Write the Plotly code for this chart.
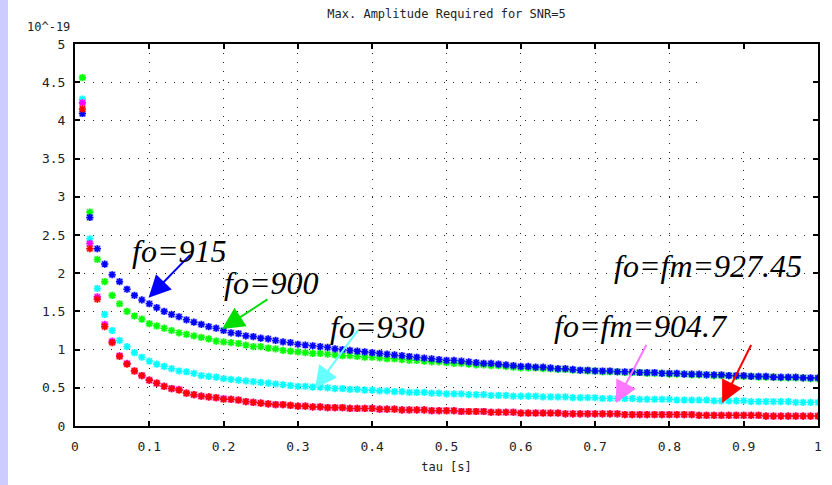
import plotly.graph_objects as go

# sampling times tau [s]
tau = [round(0.01 * k, 2) for k in range(1, 101)]

# required amplitude (units of 1e-19) for each carrier frequency
amp_915 = [4.09, 2.73, 2.32, 2.12, 1.98, 1.89, 1.79, 1.71, 1.65, 1.60,
           1.55, 1.50, 1.46, 1.43, 1.39, 1.36, 1.33, 1.30, 1.28, 1.25,
           1.22, 1.21, 1.18, 1.17, 1.15, 1.14, 1.12, 1.10, 1.09, 1.07,
           1.06, 1.05, 1.04, 1.03, 1.01, 1.00, 0.99, 0.98, 0.97, 0.96,
           0.95, 0.94, 0.93, 0.92, 0.91, 0.90, 0.89, 0.88, 0.87, 0.86,
           0.86, 0.85, 0.84, 0.83, 0.82, 0.82, 0.81, 0.80, 0.79, 0.78,
           0.78, 0.77, 0.77, 0.76, 0.75, 0.75, 0.74, 0.73, 0.73, 0.72,
           0.72, 0.72, 0.71, 0.71, 0.71, 0.70, 0.70, 0.70, 0.69, 0.69,
           0.69, 0.68, 0.68, 0.68, 0.67, 0.67, 0.67, 0.66, 0.66, 0.66,
           0.65, 0.65, 0.65, 0.64, 0.64, 0.64, 0.64, 0.63, 0.63, 0.63]

amp_900 = [4.56, 2.80, 2.18, 1.89, 1.71, 1.60, 1.50, 1.44, 1.40, 1.34,
           1.31, 1.28, 1.25, 1.22, 1.20, 1.18, 1.16, 1.14, 1.11, 1.10,
           1.09, 1.08, 1.06, 1.04, 1.04, 1.02, 1.01, 0.99, 0.98, 0.97,
           0.96, 0.95, 0.95, 0.94, 0.93, 0.92, 0.92, 0.91, 0.90, 0.90,
           0.89, 0.88, 0.88, 0.87, 0.86, 0.86, 0.85, 0.84, 0.84, 0.83,
           0.82, 0.82, 0.81, 0.80, 0.80, 0.79, 0.79, 0.78, 0.77, 0.76,
           0.76, 0.76, 0.75, 0.75, 0.74, 0.74, 0.73, 0.73, 0.72, 0.72,
           0.71, 0.71, 0.71, 0.70, 0.70, 0.70, 0.69, 0.69, 0.69, 0.68,
           0.68, 0.68, 0.67, 0.67, 0.67, 0.66, 0.66, 0.66, 0.65, 0.65,
           0.65, 0.64, 0.64, 0.64, 0.63, 0.63, 0.63, 0.63, 0.62, 0.62]

amp_930 = [4.28, 2.45, 1.80, 1.46, 1.25, 1.12, 1.04, 0.96, 0.90, 0.85,
           0.81, 0.78, 0.75, 0.72, 0.71, 0.69, 0.66, 0.65, 0.64, 0.62,
           0.61, 0.60, 0.59, 0.58, 0.57, 0.56, 0.55, 0.54, 0.53, 0.52,
           0.52, 0.51, 0.51, 0.50, 0.49, 0.49, 0.48, 0.48, 0.47, 0.47,
           0.46, 0.46, 0.45, 0.45, 0.44, 0.44, 0.44, 0.43, 0.43, 0.42,
           0.42, 0.42, 0.41, 0.41, 0.41, 0.40, 0.40, 0.40, 0.39, 0.39,
           0.39, 0.39, 0.38, 0.38, 0.38, 0.38, 0.37, 0.37, 0.37, 0.37,
           0.36, 0.36, 0.36, 0.36, 0.36, 0.35, 0.35, 0.35, 0.35, 0.35,
           0.34, 0.34, 0.34, 0.34, 0.34, 0.33, 0.33, 0.33, 0.33, 0.33,
           0.32, 0.32, 0.32, 0.32, 0.32, 0.32, 0.31, 0.31, 0.31, 0.31]

amp_904_7 = [4.23, 2.39, 1.69, 1.33, 1.11, 0.92, 0.82, 0.72, 0.66, 0.60,
             0.56, 0.52, 0.49, 0.48, 0.43, 0.41, 0.39, 0.38, 0.37, 0.36,
             0.35, 0.34, 0.32, 0.31, 0.30, 0.29, 0.28, 0.28, 0.27, 0.26,
             0.26, 0.25, 0.25, 0.24, 0.24, 0.24, 0.23, 0.23, 0.23, 0.23,
             0.22, 0.22, 0.22, 0.21, 0.21, 0.21, 0.21, 0.20, 0.20, 0.20,
             0.20, 0.19, 0.19, 0.19, 0.19, 0.18, 0.18, 0.18, 0.18, 0.17,
             0.17, 0.17, 0.17, 0.17, 0.17, 0.16, 0.16, 0.16, 0.16, 0.16,
             0.16, 0.16, 0.16, 0.15, 0.15, 0.15, 0.15, 0.15, 0.15, 0.15,
             0.15, 0.15, 0.15, 0.14, 0.14, 0.14, 0.14, 0.14, 0.14, 0.14,
             0.14, 0.14, 0.13, 0.13, 0.13, 0.13, 0.13, 0.13, 0.13, 0.13]

amp_927_45 = [4.15, 2.32, 1.66, 1.30, 1.09, 0.91, 0.81, 0.72, 0.66, 0.60,
              0.56, 0.52, 0.49, 0.47, 0.43, 0.41, 0.39, 0.38, 0.37, 0.35,
              0.35, 0.34, 0.32, 0.31, 0.30, 0.29, 0.28, 0.28, 0.27, 0.26,
              0.26, 0.25, 0.25, 0.24, 0.24, 0.24, 0.23, 0.23, 0.23, 0.23,
              0.22, 0.22, 0.22, 0.21, 0.21, 0.21, 0.21, 0.20, 0.20, 0.20,
              0.20, 0.19, 0.19, 0.19, 0.19, 0.18, 0.18, 0.18, 0.18, 0.17,
              0.17, 0.17, 0.17, 0.17, 0.17, 0.16, 0.16, 0.16, 0.16, 0.16,
              0.16, 0.16, 0.16, 0.15, 0.15, 0.15, 0.15, 0.15, 0.15, 0.15,
              0.15, 0.15, 0.15, 0.14, 0.14, 0.14, 0.14, 0.14, 0.14, 0.14,
              0.14, 0.14, 0.13, 0.13, 0.13, 0.13, 0.13, 0.13, 0.13, 0.13]

series = [
    ("fo=900", amp_900, "#00ff00"),
    ("fo=915", amp_915, "#0000ff"),
    ("fo=930", amp_930, "#00ffff"),
    ("fo=fm=904.7", amp_904_7, "#ff00ff"),
    ("fo=fm=927.45", amp_927_45, "#ff0000"),
]

# callout labels: text, text position, arrow head, arrow tail, arrow colour
callouts = [
    ("fo=915", (0.140, 2.29), (0.099, 1.68), (0.157, 2.26), "#0000ff"),
    ("fo=900", (0.264, 1.87), (0.198, 1.27), (0.261, 1.67), "#00dd00"),
    ("fo=930", (0.406, 1.29), (0.323, 0.49), (0.383, 1.28), "#66ffff"),
    ("fo=fm=904.7", (0.762, 1.31), (0.728, 0.30), (0.770, 1.08), "#ff77ff"),
    ("fo=fm=927.45", (0.852, 2.09), (0.871, 0.30), (0.911, 1.08), "#ff0000"),
]

fig = go.Figure()

for name, vals, col in series:
    # soft halo behind each point
    fig.add_trace(go.Scatter(
        x=tau, y=vals, mode="markers", showlegend=False, hoverinfo="skip",
        marker=dict(symbol="square", size=7, color=col, opacity=0.25,
                    line=dict(width=0)),
    ))
    fig.add_trace(go.Scatter(
        x=tau, y=vals, mode="markers", name=name, showlegend=False,
        marker=dict(symbol="asterisk-open", size=6, color=col,
                    line=dict(color=col, width=1.6)),
    ))

annotations = []
for text, (tx, ty), (hx, hy), (sx, sy), col in callouts:
    annotations.append(dict(
        x=hx, y=hy, ax=sx, ay=sy, xref="x", yref="y", axref="x", ayref="y",
        text="", showarrow=True, arrowhead=2, arrowsize=2.2, arrowwidth=2,
        arrowcolor=col,
    ))
    annotations.append(dict(
        x=tx, y=ty, xref="x", yref="y", text="<i>%s</i>" % text,
        showarrow=False, xanchor="center", yanchor="middle",
        font=dict(family="Liberation Serif", size=32, color="#000000"),
    ))

annotations.append(dict(
    x=-27 / 743, y=1.0, xref="paper", yref="paper", yshift=17,
    text="10^-19", showarrow=False, xanchor="center", yanchor="middle",
    font=dict(family="DejaVu Sans Mono", size=12, color="#222222"),
))

grid_dash = "1px,8px"
axis_common = dict(
    showline=True, linecolor="black", linewidth=2, mirror="allticks",
    ticks="inside", ticklen=5, tickwidth=2, tickcolor="black",
    showgrid=True, gridcolor="#222222", gridwidth=1, griddash=grid_dash,
    zeroline=False, automargin=False,
    tickfont=dict(family="DejaVu Sans Mono", size=13, color="#222222"),
)

fig.update_layout(
    width=832, height=485,
    margin=dict(l=75, r=14, t=44, b=59),
    paper_bgcolor="white", plot_bgcolor="white",
    title=dict(text="Max. Amplitude Required for SNR=5", x=0.5, xref="paper",
               y=1 - 14 / 485, yanchor="middle",
               font=dict(family="DejaVu Sans Mono", size=12, color="#222222")),
    xaxis=dict(range=[0, 1], dtick=0.1, tick0=0, ticklabelstandoff=7,
               title=dict(text="tau [s]", standoff=10,
                          font=dict(family="DejaVu Sans Mono", size=12,
                                    color="#222222")),
               **axis_common),
    yaxis=dict(range=[0, 5], dtick=0.5, tick0=0, ticklabelstandoff=5,
               **axis_common),
    annotations=annotations,
    shapes=[
        # lavender strip on the left edge of the page
        dict(type="rect", xref="paper", yref="paper",
             x0=-75 / 743, x1=-67 / 743, y0=-0.2, y1=1.2,
             fillcolor="#ccccff", line=dict(width=0), layer="below"),
        # blank key area in the upper right corner
        dict(type="rect", xref="x", yref="y", x0=0.84, x1=1.0, y0=3.6, y1=5.0,
             fillcolor="white", line=dict(width=0), layer="between"),
    ],
)

fig.write_html("out.html")
